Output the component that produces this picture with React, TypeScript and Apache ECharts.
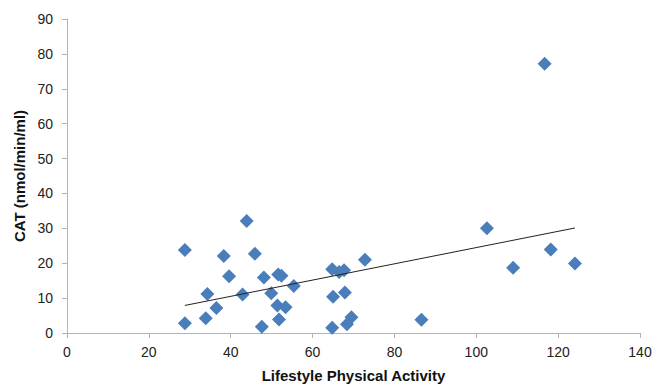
import React, { useEffect, useRef } from "react";
import * as echarts from "echarts";

const activity = [
  28.8, 28.8, 34.3, 33.9, 36.5, 38.3, 39.6, 43.9, 42.9, 45.9, 47.6, 48.1, 49.9, 51.6, 52.4, 51.4, 53.4,
  51.8, 55.4, 64.8, 66.5, 67.7, 65.0, 67.9, 64.8, 68.4, 69.5, 72.8, 86.6, 102.6, 109.0, 116.7, 118.2, 124.1,
];
const cat = [
  23.8, 2.8, 11.2, 4.2, 7.2, 22.1, 16.3, 32.1, 11.0, 22.7, 1.8, 15.9, 11.4, 16.8, 16.4, 7.9, 7.4,
  3.9, 13.5, 18.3, 17.5, 18.0, 10.4, 11.6, 1.5, 2.5, 4.5, 21.0, 3.8, 30.0, 18.7, 77.2, 23.9, 19.9,
];
const trendX = [28.8, 124.1];
const trendY = [7.9, 30.1];

const xTitle = "Lifestyle Physical Activity";
const yTitle = "CAT (nmol/min/ml)";

export default function App() {
  const ref = useRef<HTMLDivElement>(null);
  useEffect(() => {
    document.body.style.margin = "0";
    const chart = echarts.init(ref.current!, null, { renderer: "svg" });
    const font = "'Liberation Sans', Arial, sans-serif";
    const axisColor = "#b3b3b3";
    chart.setOption({
      animation: false,
      backgroundColor: "#ffffff",
      grid: { left: 67, right: 27, top: 19, bottom: 52, containLabel: false },
      xAxis: {
        type: "value",
        min: 0,
        max: 140,
        interval: 20,
        name: xTitle,
        nameLocation: "middle",
        nameGap: 35,
        nameTextStyle: { fontFamily: font, fontSize: 15, fontWeight: "bold", color: "#111" },
        axisLine: { show: true, lineStyle: { color: axisColor, width: 1 } },
        axisTick: { show: true, length: 5, inside: false, lineStyle: { color: axisColor } },
        axisLabel: { fontFamily: font, fontSize: 14, color: "#222", margin: 12 },
        splitLine: { show: false },
      },
      yAxis: {
        type: "value",
        min: 0,
        max: 90,
        interval: 10,
        name: yTitle,
        nameLocation: "middle",
        nameGap: 30,
        nameRotate: 90,
        nameTextStyle: { fontFamily: font, fontSize: 15, fontWeight: "bold", color: "#111" },
        axisLine: { show: true, lineStyle: { color: axisColor, width: 1 } },
        axisTick: { show: true, length: 5, inside: false, lineStyle: { color: axisColor } },
        axisLabel: { fontFamily: font, fontSize: 14, color: "#222", margin: 14 },
        splitLine: { show: false },
      },
      series: [
        {
          type: "line",
          data: trendX.map((x, i) => [x, trendY[i]]),
          symbol: "none",
          lineStyle: { color: "#222", width: 1 },
          silent: true,
          z: 3,
        },
        {
          type: "scatter",
          data: activity.map((x, i) => [x, cat[i]]),
          symbol: "diamond",
          symbolSize: 14,
          itemStyle: { color: "#4A7EBB", opacity: 1 },
          z: 2,
        },
      ],
    });
    return () => chart.dispose();
  }, []);
  return <div ref={ref} style={{ width: 667, height: 388 }} />;
}
